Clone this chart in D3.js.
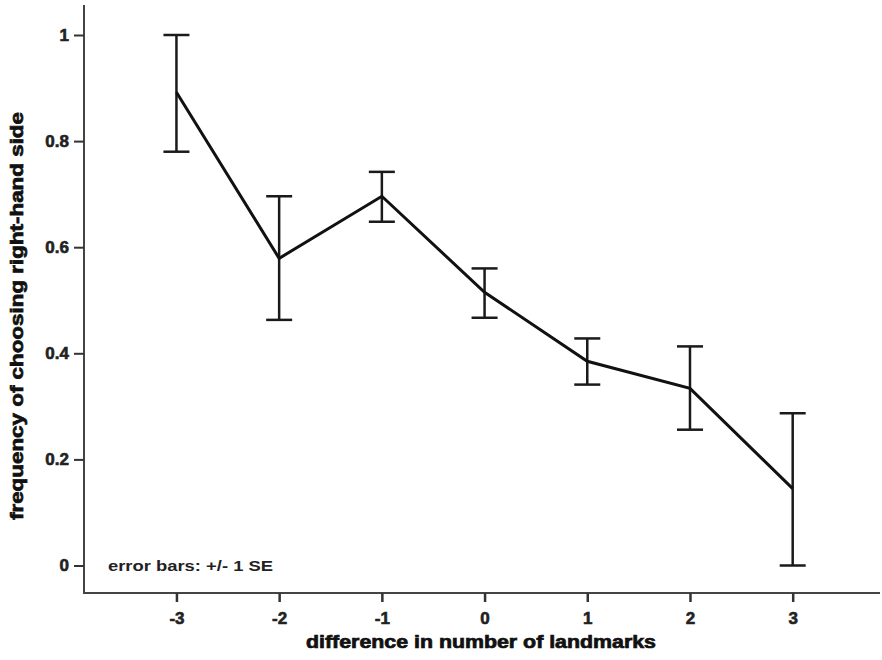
<!DOCTYPE html>
<html><head><meta charset="utf-8">
<script src="https://cdn.jsdelivr.net/npm/d3@7"></script>
<style>body{margin:0;background:#fff}text{font-family:"Liberation Sans",Arial,sans-serif}</style>
</head><body>
<svg id="c" width="882" height="660"></svg>
<script>
const categories = [-3, -2, -1, 0, 1, 2, 3];
const means = [0.892, 0.579, 0.696, 0.515, 0.385, 0.334, 0.145];
const lower = [0.780, 0.463, 0.648, 0.467, 0.341, 0.256, 0.000];
const upper = [1.000, 0.696, 0.742, 0.560, 0.428, 0.413, 0.287];
const yTicks = [0, 0.2, 0.4, 0.6, 0.8, 1];

const svg = d3.select("#c");
const x = d3.scaleLinear().domain([-3.9, 3.85]).range([84, 880]);
const y = d3.scaleLinear().domain([0, 1]).range([565.5, 35]);
const axisY = 593, axisTop = 5;
const heavy = "'Liberation Sans', Arial, sans-serif";

svg.append("line").attr("x1",84).attr("x2",84).attr("y1",axisTop).attr("y2",axisY)
  .attr("stroke","#444").attr("stroke-width",2);
svg.append("line").attr("x1",83).attr("x2",880).attr("y1",axisY).attr("y2",axisY)
  .attr("stroke","#444").attr("stroke-width",2);

const ya = svg.append("g").attr("transform","translate(84,0)")
  .call(d3.axisLeft(y).tickValues(yTicks).tickSize(10).tickPadding(5).tickFormat(d=>String(+d.toFixed(1))));
ya.select(".domain").remove();
ya.selectAll("line").attr("stroke","#333").attr("stroke-width",2);
ya.selectAll("text").attr("font-size",17).attr("font-weight","bold").attr("fill","#222")
  .style("font-family",heavy).attr("stroke","#222").attr("stroke-width",0.6);

const xa = svg.append("g").attr("transform",`translate(0,${axisY})`)
  .call(d3.axisBottom(x).tickValues(categories).tickSize(9).tickPadding(10).tickFormat(d=>String(d)));
xa.select(".domain").remove();
xa.selectAll("line").attr("stroke","#333").attr("stroke-width",2.5);
xa.selectAll("text").attr("font-size",17).attr("font-weight","bold").attr("fill","#222")
  .style("font-family",heavy).attr("stroke","#222").attr("stroke-width",0.6);

const eb = svg.append("g").attr("stroke","#1a1a1a").attr("stroke-width",2.5);
categories.forEach((c,i)=>{
  eb.append("line").attr("x1",x(c)).attr("x2",x(c)).attr("y1",y(lower[i])).attr("y2",y(upper[i]));
  eb.append("line").attr("x1",x(c)-13).attr("x2",x(c)+13).attr("y1",y(lower[i])).attr("y2",y(lower[i]));
  eb.append("line").attr("x1",x(c)-13).attr("x2",x(c)+13).attr("y1",y(upper[i])).attr("y2",y(upper[i]));
});

svg.append("path").datum(categories.map((c,i)=>[c,means[i]]))
  .attr("fill","none").attr("stroke","#111").attr("stroke-width",3)
  .attr("d", d3.line().x(d=>x(d[0])).y(d=>y(d[1])));

svg.append("text").attr("x",481).attr("y",648).attr("text-anchor","middle")
  .attr("font-size",18).attr("font-weight","bold").attr("fill","#111").attr("stroke","#111").attr("stroke-width",0.7)
  .attr("textLength",350).attr("lengthAdjust","spacingAndGlyphs").text("difference in number of landmarks");
svg.append("text").attr("transform","translate(23,316) rotate(-90)").attr("text-anchor","middle")
  .attr("font-size",18).attr("font-weight","bold").attr("fill","#111").attr("stroke","#111").attr("stroke-width",0.7)
  .attr("textLength",408).attr("lengthAdjust","spacingAndGlyphs").text("frequency of choosing right-hand side");
svg.append("text").attr("x",108).attr("y",571).attr("font-size",15).attr("font-weight","bold")
  .attr("fill","#222").attr("textLength",165).attr("lengthAdjust","spacingAndGlyphs").text("error bars: +/- 1 SE");
</script>
</body></html>
